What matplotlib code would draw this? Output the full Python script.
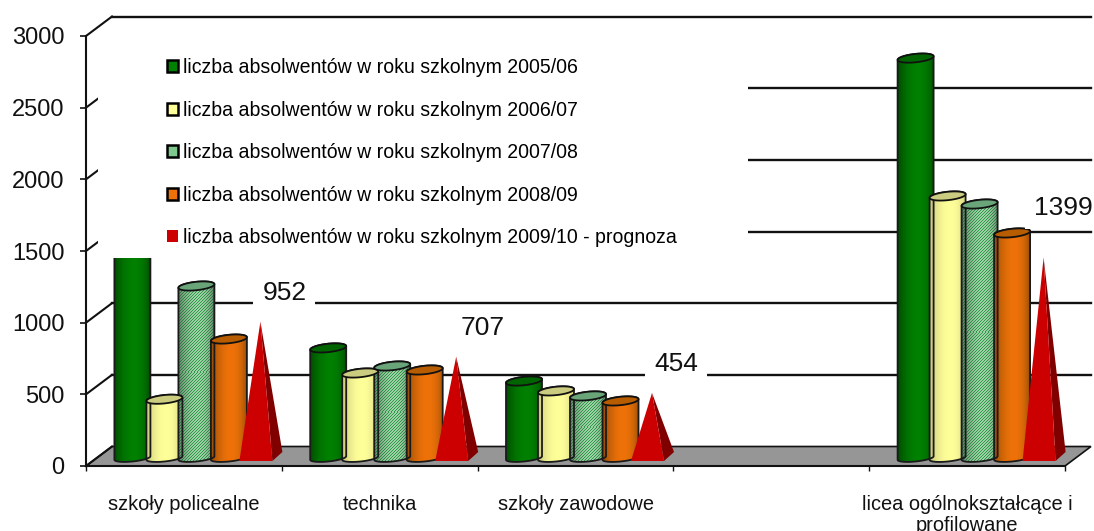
import numpy as np
import matplotlib
matplotlib.use("Agg")
import matplotlib.pyplot as plt
from matplotlib.patches import Patch, Polygon, Rectangle

categories = ["szkoły policealne", "technika", "szkoły zawodowe", "",
              "licea ogólnokształcące i\nprofilowane"]
cat_pos = [0, 1, 2, 4]
y_ticks = [0, 500, 1000, 1500, 2000, 2500, 3000]

v_2005 = [1650, 768, 537, 2790]   # first one is cut off in the picture
v_2006 = [410, 593, 468, 1828]
v_2007 = [1200, 642, 433, 1772]
v_2008 = [830, 614, 398, 1570]
v_2009 = [952, 707, 454, 1399]

legend_labels = ["liczba absolwentów w roku szkolnym 2005/06",
                 "liczba absolwentów w roku szkolnym 2006/07",
                 "liczba absolwentów w roku szkolnym 2007/08",
                 "liczba absolwentów w roku szkolnym 2008/09",
                 "liczba absolwentów w roku szkolnym 2009/10 - prognoza"]

plt.rcParams["font.family"] = ["Liberation Sans", "DejaVu Sans"]

W, H = 1094, 531
fig = plt.figure(figsize=(W / 100, H / 100), dpi=100)
# axes box = front plane of the fake 3D chart
ax = fig.add_axes([86 / W, 1 - 466 / H, 979 / W, 430 / H])

DX = 1 / 195.8      # one pixel in x data units
DY = 3000 / 430     # one pixel in y data units
FLOOR = 8 * DY      # zero of the bars sits a bit behind the front edge
BACK_X, BACK_Y = 26 * DX, 19.5 * DY
x0, x1 = -0.5, 4.5
BLACK = "#111111"

# floor and back wall lines
ax.add_patch(Polygon([(x0, 0), (x0 + BACK_X, BACK_Y), (x1 + BACK_X, BACK_Y), (x1, 0)],
                     closed=True, fc="#969696", ec=BLACK, lw=1.2, clip_on=False, zorder=1))
for t in y_ticks:
    ax.plot([x0, x0 + BACK_X], [t, t + BACK_Y], color=BLACK, lw=1.5, clip_on=False, zorder=1)
    if t > 0:
        ax.plot([x0 + BACK_X, x1 + BACK_X], [t + BACK_Y, t + BACK_Y], color=BLACK, lw=1.7,
                clip_on=False, zorder=1)


def cylinder(k, off, value, body, dark, cap, hatched=False):
    cx = k + off * DX
    top = value + FLOOR
    t = np.linspace(0, 2 * np.pi, 61)
    a, b_top, b_bot, slope = 18, 4.2, 3.5, 0.1
    ex = cx + a * DX * np.cos(t)
    top_y = top + (b_top * np.sin(t) + slope * a * np.cos(t)) * DY
    bot_y = FLOOR + (b_bot * np.sin(t) + slope * a * np.cos(t)) * DY

    # outline: upper half of the top ellipse, lower half of the bottom one
    px = np.r_[ex[:31], ex[30:]]
    py = np.r_[top_y[:31], bot_y[30:]]
    outline = Polygon(np.c_[px, py], closed=True, fc="none", ec="#1a1a1a", lw=1.3,
                      clip_on=False, zorder=2.2)
    ax.add_patch(outline)

    u = np.linspace(0, 1, 36)
    shade = np.clip(np.sin(np.pi * u ** 1.2), 0, 1) ** 0.6
    c1, c2 = np.array(matplotlib.colors.to_rgb(body)), np.array(matplotlib.colors.to_rgb(dark))
    row = c2 + (c1 - c2) * shade[:, None]
    rows = max(int((top - FLOOR) / DY) + 12, 2)
    img = np.repeat(row[None, :, :], rows, axis=0)
    if hatched:
        rr, cc = np.mgrid[0:rows, 0:36]
        stripe = ((rr + cc) % 3 == 0)
        light = np.array(matplotlib.colors.to_rgb("#cfeccf"))
        img[~stripe] = img[~stripe] * 0.3 + light * 0.7 * (0.55 + 0.45 * shade[cc[~stripe]])[:, None]
    im = ax.imshow(img, extent=[cx - a * DX, cx + a * DX, FLOOR - 6 * DY, top + 6 * DY],
                   aspect="auto", interpolation="nearest", origin="upper", zorder=2.1)
    im.set_clip_path(outline)

    ax.add_patch(Polygon(np.c_[ex, top_y], closed=True, fc=cap, ec="#111111", lw=1.3,
                         clip_on=False, zorder=2.3))
    return outline


def pyramid(k, off, value):
    apex = (k + off * DX, value + FLOOR)
    fl = (k + (off - 21) * DX, FLOOR - 3 * DY)
    fr = (k + (off + 12) * DX, FLOOR - 3 * DY)
    br = (k + (off + 22) * DX, FLOOR + 6 * DY)
    ax.add_patch(Polygon([apex, fr, br], closed=True, fc="#800000", ec="none", clip_on=False, zorder=2.4))
    ax.add_patch(Polygon([apex, fl, fr], closed=True, fc="#cc0000", ec="none", clip_on=False, zorder=2.5))


offsets = [-51.5, -19.5, 12.5, 45, 76.5]
for n, k in enumerate(cat_pos):
    cylinder(k, offsets[0], v_2005[n], "#008000", "#004a00", "#006400")
    cylinder(k, offsets[1], v_2006[n], "#ffff99", "#c4c478", "#cccc80")
    cylinder(k, offsets[2], v_2007[n], "#2f9a4a", "#2a6a3a", "#6aa57a", hatched=True)
    cylinder(k, offsets[3], v_2008[n], "#ee7209", "#8f4a08", "#b85c00")
    pyramid(k, offsets[4], v_2009[n])

# white legend box hides the grid and the top of the first bar
ax.add_patch(Rectangle((x0 + 12 * DX, (466 - 258) * DY), 650 * DX, 221 * DY, fc="white", ec="none", zorder=3))

label_shift = [(24, 29), (26, 29), (24, 29), (20, 49)]
for n, k in enumerate(cat_pos):
    ax.annotate(str(v_2009[n]), (k + offsets[4] * DX, v_2009[n] + FLOOR), xytext=label_shift[n],
                textcoords="offset pixels", ha="center", va="center", fontsize=19, color="#111111",
                bbox=dict(fc="white", ec="none", pad=6.5), zorder=4, annotation_clip=False)

handles = [Patch(fc="#008000", ec="black", lw=1.8),
           Patch(fc="#ffff99", ec="black", lw=1.8),
           Patch(fc="#7fc98f", ec="black", lw=1.8),
           Patch(fc="#ee7209", ec="black", lw=1.8),
           Patch(fc="#cc0000", ec="none")]
leg = ax.legend(handles, legend_labels, loc="upper left", bbox_to_anchor=(167 / W, 1 - 58 / H),
                bbox_transform=fig.transFigure, frameon=False, fontsize=14.05, borderpad=0,
                borderaxespad=0, handlelength=0.56, handleheight=0.56, handletextpad=0.26,
                labelspacing=1.206)
leg.set_zorder(5)

ax.set_xlim(x0, x1)
ax.set_ylim(0, 3000)
ax.patch.set_visible(False)
for s in ["top", "right"]:
    ax.spines[s].set_visible(False)
for s in ["left", "bottom"]:
    ax.spines[s].set_linewidth(1.5)
    ax.spines[s].set_color(BLACK)
ax.set_yticks(y_ticks)
ax.tick_params(axis="y", length=4.3, width=1.2, pad=11, labelsize=17, color=BLACK, labelcolor="#111111")
for lbl in ax.get_yticklabels():
    lbl.set_verticalalignment("center_baseline")
ax.set_xticks(range(5))
ax.set_xticklabels(categories, fontsize=14.4, color="#111111", linespacing=1.1)
ax.set_xticks(np.arange(-0.5, 5, 1), minor=True)
ax.tick_params(axis="x", which="major", length=0, pad=21)
ax.tick_params(axis="x", which="minor", length=3.5, width=1, color=BLACK)

fig.savefig("out.png", dpi=100)
